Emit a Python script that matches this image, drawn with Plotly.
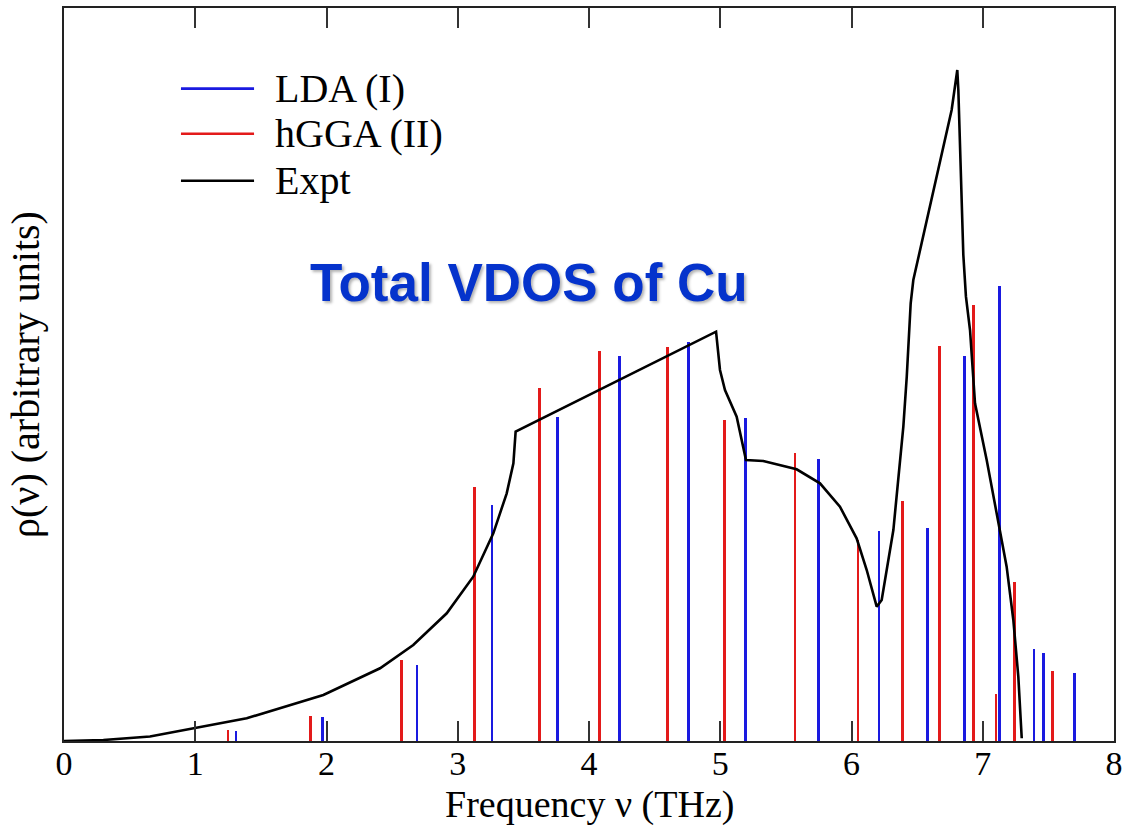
import plotly.graph_objects as go

# ---- data (frequency in THz, density in arbitrary units) ----
lda_freq = [1.31, 1.97, 2.69, 3.26, 3.76, 4.23, 4.76, 5.19, 5.75, 6.21, 6.58,
            6.86, 7.13, 7.39, 7.46, 7.70]
lda_dos = [0.10, 0.24, 0.76, 2.36, 3.24, 3.85, 3.99, 3.23, 2.82, 2.10, 2.13,
           3.85, 4.55, 0.92, 0.88, 0.68]

hgga_freq = [1.25, 1.88, 2.57, 3.13, 3.62, 4.08, 4.60, 5.03, 5.57, 6.05, 6.39,
             6.67, 6.93, 7.10, 7.24, 7.53]
hgga_dos = [0.11, 0.25, 0.81, 2.54, 3.53, 3.90, 3.94, 3.21, 2.88, 2.01, 2.40,
            3.95, 4.36, 0.47, 1.59, 0.70]

expt_freq = [0.0, 0.3, 0.655, 0.884, 1.0, 1.392, 1.976, 2.408, 2.661, 2.916,
             3.118, 3.271, 3.373, 3.424, 3.441, 4.968, 4.998, 5.036, 5.125,
             5.196, 5.328, 5.582, 5.760, 5.912, 6.039, 6.116, 6.192, 6.230,
             6.319, 6.395, 6.421, 6.451, 6.471, 6.598, 6.763, 6.806, 6.814,
             6.852, 6.872, 6.903, 6.941, 7.030, 7.131, 7.182, 7.233, 7.271,
             7.297]
expt_dos = [0.0, 0.01, 0.045, 0.10, 0.133, 0.227, 0.46, 0.727, 0.96, 1.277,
            1.643, 2.077, 2.477, 2.777, 3.093, 4.093, 3.71, 3.51, 3.243,
            2.81, 2.80, 2.717, 2.577, 2.343, 2.027, 1.71, 1.343, 1.41,
            2.11, 3.143, 3.643, 4.377, 4.61, 5.343, 6.31, 6.71, 6.51,
            4.86, 4.443, 4.11, 3.377, 2.81, 2.077, 1.743, 1.21, 0.643,
            0.027]

x_ticks = [0, 1, 2, 3, 4, 5, 6, 7, 8]
legend_names = ["LDA (I)", "hGGA (II)", "Expt"]

BLUE = "#1a1ae0"
RED = "#e31a1a"
BLACK = "#000000"
SERIF = "Liberation Serif, Times New Roman, serif"

fig = go.Figure()
fig.add_trace(go.Bar(x=hgga_freq, y=hgga_dos, width=0.021, marker=dict(color=RED, line=dict(width=0)),
                     name=legend_names[1], showlegend=False))
fig.add_trace(go.Bar(x=lda_freq, y=lda_dos, width=0.021, marker=dict(color=BLUE, line=dict(width=0)),
                     name=legend_names[0], showlegend=False))
fig.add_trace(go.Scatter(x=expt_freq, y=expt_dos, mode="lines",
                         line=dict(color=BLACK, width=2.6), name=legend_names[2], showlegend=False))

# manual legend (long sample lines like the original)
leg_y = [0.890, 0.8285, 0.7644]
leg_colors = [BLUE, RED, BLACK]
for name, yy, col in zip(legend_names, leg_y, leg_colors):
    fig.add_shape(type="line", xref="paper", yref="paper", x0=0.1114, x1=0.181, y0=yy, y1=yy,
                  line=dict(color=col, width=2.6))
    fig.add_annotation(x=0.199, y=yy, xref="paper", yref="paper", text=name, showarrow=False,
                       xanchor="left", yanchor="middle", font=dict(family=SERIF, size=40, color="black"))

fig.add_annotation(x=0.443, y=0.626, xref="paper", yref="paper", text="<b>Total VDOS of Cu</b>",
                   showarrow=False, xanchor="center", yanchor="middle",
                   font=dict(family="Liberation Sans, Arial, sans-serif", size=53, color="#0533cc",
                             shadow="2px 2px 3px rgba(0,0,0,0.3)"))

# x-axis title placed at the bottom edge
fig.add_annotation(x=0.5, y=-0.1173, xref="paper", yref="paper", text="Frequency ν (THz)",
                   showarrow=False, xanchor="center", yanchor="bottom", borderpad=0,
                   font=dict(family=SERIF, size=38, color="black"))

fig.update_layout(
    template="none",
    width=1122, height=827,
    margin=dict(l=64, r=8, t=8, b=86, autoexpand=False),
    paper_bgcolor="white", plot_bgcolor="white",
    barmode="overlay", bargap=0,
    font=dict(family=SERIF, color="black"),
    xaxis=dict(range=[0, 8], tickvals=x_ticks, ticktext=[str(t) for t in x_ticks],
               ticks="inside", ticklen=20, tickwidth=2, tickcolor="#333",
               showline=True, linecolor="#222", linewidth=2, mirror="ticks",
               showgrid=False, zeroline=False, automargin=False,
               ticklabeloverflow="allow", ticklabelstandoff=-9,
               tickfont=dict(family=SERIF, size=34, color="black")),
    yaxis=dict(range=[0, 7.33], showticklabels=False, ticks="",
               showline=True, linecolor="#222", linewidth=2, mirror=True,
               showgrid=False, zeroline=False, automargin=False,
               title=dict(text="ρ(ν) (arbitrary units)", font=dict(family=SERIF, size=40, color="black"),
                          standoff=10)),
)

fig.write_html("out.html")
